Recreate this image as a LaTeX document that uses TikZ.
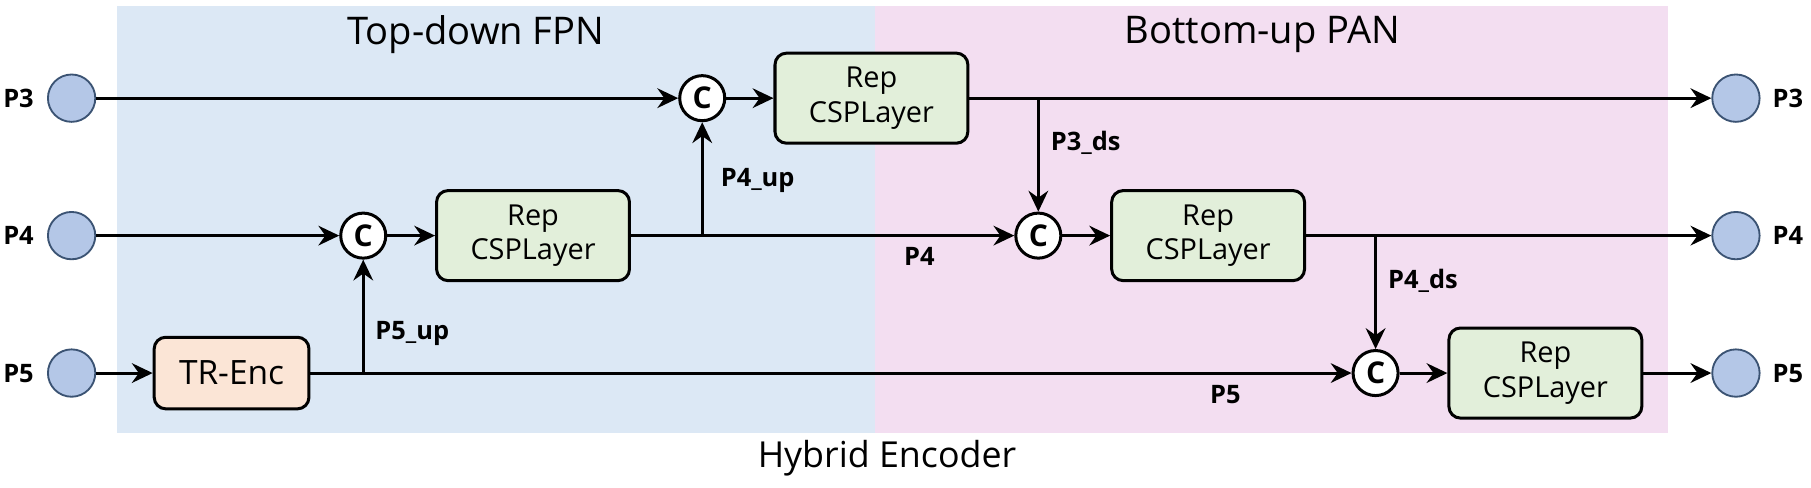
\documentclass[tikz,border=0pt]{standalone}
\usepackage{fontspec}
\setmainfont{Open Sans}
\usetikzlibrary{arrows.meta}
\definecolor{bgblue}{HTML}{DCE8F5}
\definecolor{bgpink}{HTML}{F3DEF1}
\definecolor{pfill}{HTML}{B4C7E7}
\definecolor{pdraw}{HTML}{3B5373}
\definecolor{boxgreen}{HTML}{E2EFDA}
\definecolor{boxpeach}{HTML}{FBE5D6}
\tikzset{
  pcirc/.style={circle, fill=pfill, draw=pdraw, line width=0.8pt, minimum size=20.5pt, inner sep=0pt},
  ccirc/.style={circle, fill=white, draw=black, line width=1.3pt, minimum size=19.5pt, inner sep=0pt, font=\fontsize{13}{14}\selectfont\bfseries},
  repbox/.style={rectangle, rounded corners=5pt, fill=boxgreen, draw=black, line width=1.3pt, minimum width=83.5pt, minimum height=39pt, align=center, font=\fontsize{12.5}{15}\selectfont, inner sep=0pt},
  trbox/.style={rectangle, rounded corners=5pt, fill=boxpeach, draw=black, line width=1.3pt, minimum width=67pt, minimum height=31pt, font=\fontsize{14.5}{16}\selectfont, inner sep=0pt},
  lbl/.style={font=\fontsize{11}{12}\selectfont\bfseries, inner sep=0pt},
  title/.style={font=\fontsize{16.5}{18}\selectfont, inner sep=0pt},
  conn/.style={line width=1.35pt, -{Stealth[length=9pt, width=8.5pt, inset=3pt]}},
  plain/.style={line width=1.35pt}
}
\begin{document}
\begin{tikzpicture}[x=0.5pt, y=-0.5pt]
\useasboundingbox (0,0) rectangle (1568,422.5);
\fill[white] (0,0) rectangle (1568,422.5);
\fill[bgblue] (101,5) rectangle (758,375);
\fill[bgpink] (758,5) rectangle (1444,375);
\node[title] (t1) at (412,30) {Top-down FPN};
\node[title] (t2) at (1093,30) {Bottom-up PAN};
\node[title, font=\fontsize{15.5}{17}\selectfont] (t3) at (768,397) {Hybrid Encoder};
% inputs
\node[pcirc] (p3l) at (62,85) {};
\node[pcirc] (p4l) at (62,204) {};
\node[pcirc] (p5l) at (62,323) {};
\node[lbl] (l3l) at (16,85) {P3};
\node[lbl] (l4l) at (16,204) {P4};
\node[lbl] (l5l) at (16,323) {P5};
% outputs
\node[pcirc] (p3r) at (1503,85) {};
\node[pcirc] (p4r) at (1503,204) {};
\node[pcirc] (p5r) at (1503,323) {};
\node[lbl] (l3r) at (1548,85) {P3};
\node[lbl] (l4r) at (1548,204) {P4};
\node[lbl] (l5r) at (1548,323) {P5};
% concat nodes
\node[ccirc] (c1) at (608,85) {C};
\node[ccirc] (c2) at (314.5,204) {C};
\node[ccirc] (c3) at (899,204) {C};
\node[ccirc] (c4) at (1191,323) {C};
% boxes
\node[repbox] (b1) at (754.5,85) {Rep\\CSPLayer};
\node[repbox] (b2) at (461.5,204) {Rep\\CSPLayer};
\node[repbox] (b3) at (1046,204) {Rep\\CSPLayer};
\node[repbox] (b4) at (1338,323) {Rep\\CSPLayer};
\node[trbox] (tr) at (200.5,323) {TR-Enc};
% branch points
\coordinate (j1) at (c1 |- b2);
\coordinate (j2) at (c3 |- b1);
\coordinate (j3) at (c4 |- b3);
\coordinate (j4) at (c2 |- tr);
% connectors
\draw[conn] (p3l) -- (c1);
\draw[conn] (c1) -- (b1);
\draw[conn] (b1.east) -- (p3r);
\draw[conn] (j2) -- (c3);
\draw[conn] (p4l) -- (c2);
\draw[conn] (c2) -- (b2);
\draw[conn] (b2.east) -- (c3);
\draw[conn] (j1) -- (c1);
\draw[conn] (c3) -- (b3);
\draw[conn] (b3.east) -- (p4r);
\draw[conn] (j3) -- (c4);
\draw[conn] (p5l) -- (tr);
\draw[conn] (tr.east) -- (c4);
\draw[conn] (j4) -- (c2);
\draw[conn] (c4) -- (b4);
\draw[conn] (b4.east) -- (p5r);
% labels
\node[lbl] (u4) at (656,156) {P4\_up};
\node[lbl] (d3) at (940,124) {P3\_ds};
\node[lbl] (m4) at (796,222) {P4};
\node[lbl] (d4) at (1232,243) {P4\_ds};
\node[lbl] (u5) at (357,289) {P5\_up};
\node[lbl] (m5) at (1061,342) {P5};
\end{tikzpicture}
\end{document}
